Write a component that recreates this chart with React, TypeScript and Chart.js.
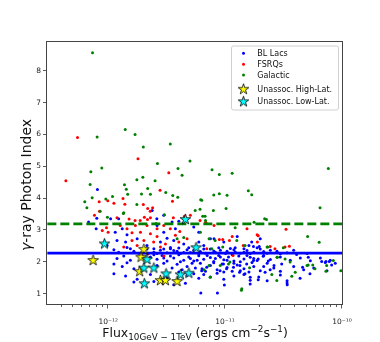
import React, { useEffect, useRef } from "react";
import { Chart, registerables } from "chart.js";

Chart.register(...registerables);

const FONT = "'DejaVu Sans', sans-serif";
const FLUX_UNIT = 1e-12; // fluxes below are in units of 1e-12 ergs cm^-2 s^-1

// axis ranges and ticks
const xLimits = [3.02e-13, 1e-10];
const yLimits = [0.64, 8.94];
const yTickValues = [1, 2, 3, 4, 5, 6, 7, 8];
const xMajorTickValues = [1e-12, 1e-11, 1e-10];
const xMajorTickLabels = ["10\u207B\u00B9\u00B2", "10\u207B\u00B9\u00B9", "10\u207B\u00B9\u2070"];

// reference lines (photon index)
const blLacLineIndex = 2.27;
const galacticLineIndex = 3.19;

const seriesLabels = ["BL Lacs", "FSRQs", "Galactic", "Unassoc. High-Lat.", "Unassoc. Low-Lat."];
const seriesColors = ["#0000ff", "#ff0000", "#008000", "#ffff00", "#00ffff"];

// [flux (1e-12), photon index]
const blLacs: number[][] = [
  [0.81, 4.27], [0.68, 3.25], [0.79, 3.04], [0.8, 3.37], [1.05, 3.35], [1.23, 3.35], [1.32, 3.04], [2.38, 3.61],
  [2.61, 3.35], [2.99, 3.46], [3.52, 3.25], [3.76, 3.04], [4.02, 3.27], [5.4, 3.09], [5.96, 2.93], [2.62, 3.14],
  [1.15, 2.93], [1.45, 2.85], [1.77, 2.72], [1.19, 2.67], [1.41, 2.62], [2.15, 2.51], [2.99, 2.93], [3.19, 2.74],
  [3.64, 2.67], [4.43, 2.56], [2.8, 2.62], [7.49, 2.72], [9.75, 2.62], [12.7, 2.79], [16.0, 2.51], [20.0, 2.72],
  [5.96, 2.62], [0.98, 2.51], [1.55, 2.41], [2.46, 2.41], [3.41, 2.41], [4.02, 2.43], [6.57, 2.51], [14.5, 2.41],
  [8.05, 2.72], [12.2, 2.44], [16.9, 2.62], [17.5, 2.48], [19.6, 2.48],
  [40.9, 2.23], [51.5, 2.14], [67.0, 2.01], [72.9, 2.01], [77.8, 2.01], [81.5, 1.9], [46.0, 1.83], [53.2, 1.62],
  [34.0, 1.28], [43.8, 1.48], [30.5, 1.93], [26.2, 1.88], [23.4, 2.02], [21.2, 2.17], [19.2, 2.09], [17.5, 2.04],
  [15.3, 1.93], [13.4, 1.88], [11.8, 1.83], [10.3, 1.78], [9.06, 1.72], [9.68, 1.93], [13.3, 1.67], [14.8, 1.62],
  [16.4, 1.51], [19.2, 1.43], [22.0, 1.67], [24.3, 1.75], [9.86, 1.27], [8.6, 1.02], [6.2, 1.02], [6.31, 1.72],
  [6.97, 1.83],
  [1.12, 2.38], [1.23, 2.3], [1.45, 2.45], [1.66, 2.33], [1.83, 2.27], [2.15, 2.4], [2.46, 2.3], [2.8, 2.36],
  [3.19, 2.28], [3.41, 2.45], [3.89, 2.33], [4.15, 2.26], [4.73, 2.38], [5.05, 2.29], [5.57, 2.45], [6.15, 2.32],
  [6.79, 2.27], [7.49, 2.4], [8.26, 2.3], [9.12, 2.36], [10.1, 2.26], [11.1, 2.42], [12.2, 2.31], [13.5, 2.27],
  [15.4, 2.35], [17.6, 2.3], [20.0, 2.4], [22.9, 2.27], [27.8, 2.33], [33.9, 2.28], [38.6, 2.36], [50.2, 2.26],
  [2.62, 2.26], [2.99, 2.4], [3.64, 2.35], [4.43, 2.29], [4.89, 2.44], [5.4, 2.36], [5.96, 2.25], [6.57, 2.4],
  [8.0, 2.34], [8.83, 2.44], [10.4, 2.33], [11.9, 2.38], [14.5, 2.3], [16.4, 2.26], [18.8, 2.44], [21.4, 2.32],
  [24.4, 2.36], [29.7, 2.25],
  [1.19, 2.1], [1.36, 2.18], [1.55, 2.05], [2.3, 2.15], [2.62, 2.08], [2.89, 2.2], [3.19, 2.02], [3.64, 2.12],
  [4.02, 2.22], [4.43, 2.05], [4.89, 2.15], [5.4, 2.02], [5.96, 2.19], [6.57, 2.08], [7.49, 2.13], [8.0, 2.01],
  [8.83, 2.2], [9.75, 2.06], [10.7, 2.15], [11.9, 2.02], [13.1, 2.18], [14.5, 2.09], [16.4, 2.14], [18.8, 2.04],
  [21.4, 2.2], [24.4, 2.07], [29.7, 2.15], [36.1, 2.05], [44.0, 2.12], [53.6, 2.03], [65.3, 2.12], [72.0, 1.98],
  [79.4, 2.05], [87.6, 1.95],
  [2.46, 2.22], [2.99, 2.12], [3.41, 2.18], [4.15, 2.0], [5.05, 2.1], [5.77, 2.05], [7.03, 2.2], [8.26, 2.1],
  [9.12, 2.15], [10.4, 2.05], [11.5, 2.22], [13.5, 2.0], [15.4, 2.2], [17.6, 2.1],
  [1.12, 1.93], [1.32, 1.85], [1.45, 1.97], [1.66, 1.78], [2.62, 1.88], [2.99, 1.95], [3.52, 1.8], [3.89, 1.92],
  [4.29, 1.75], [4.73, 1.85], [5.57, 1.8], [6.15, 1.95], [6.79, 1.7], [7.49, 1.88], [8.55, 1.75], [9.42, 1.93],
  [10.4, 1.82], [11.5, 1.7], [12.7, 1.9], [14.5, 1.78], [16.0, 1.68], [17.6, 1.85], [20.0, 1.72], [22.9, 1.95],
  [26.1, 1.8], [29.7, 1.7], [38.6, 1.85], [47.0, 1.75], [57.3, 1.8], [74.4, 1.72],
  [4.02, 1.68], [5.22, 1.95], [6.35, 1.78], [8.0, 1.97], [9.75, 1.68], [11.9, 1.95], [13.5, 1.72], [17.0, 1.98],
  [21.4, 1.85],
  [1.12, 1.62], [1.41, 1.55], [1.77, 1.45], [2.3, 1.6], [3.19, 1.5], [4.73, 1.57], [5.4, 1.62], [5.96, 1.48],
  [6.57, 1.6], [7.49, 1.52], [8.55, 1.64], [9.75, 1.45], [11.9, 1.55], [14.5, 1.6], [16.4, 1.42], [19.4, 1.52],
  [22.9, 1.4], [29.7, 1.58], [33.9, 1.4],
  [1.66, 1.36], [2.46, 1.38], [3.64, 1.28], [4.58, 1.32], [16.4, 1.3], [33.9, 1.33],
];

const fsrqs: number[][] = [
  [0.547, 5.91], [0.435, 4.55], [1.8, 5.24], [3.3, 4.8], [2.78, 4.25], [1.34, 3.99],
  [0.838, 3.89], [0.993, 3.92], [1.12, 3.84], [0.764, 3.46], [1.19, 3.38], [1.51, 3.34], [1.7, 3.3], [1.88, 3.3],
  [2.04, 3.4], [2.18, 3.67], [2.29, 3.59], [2.17, 3.33], [3.55, 3.9], [1.39, 3.81], [3.61, 3.38], [4.49, 3.43],
  [6.11, 3.3], [6.84, 3.24], [0.843, 3.59], [2.3, 3.38],
  [0.968, 3.07], [0.891, 2.98], [1.0, 2.93], [1.27, 3.14], [1.45, 3.04], [1.6, 2.91], [1.71, 3.14], [1.89, 2.93],
  [2.15, 3.14], [2.3, 2.88], [2.62, 3.04], [2.99, 3.14], [3.4, 3.04], [3.76, 2.83], [4.1, 2.95], [2.62, 2.79],
  [1.6, 2.67], [2.02, 2.67], [2.45, 2.62], [3.09, 2.56], [1.36, 2.46], [1.77, 2.51], [2.8, 2.46], [4.02, 2.62],
  [4.73, 2.72], [5.05, 3.46],
  [8.05, 3.14], [33.2, 3.02], [11.5, 2.79], [19.2, 2.82], [8.93, 2.7], [9.55, 2.7], [10.9, 2.67], [18.9, 2.62],
  [6.97, 2.41], [24.3, 2.48], [26.7, 2.41], [32.6, 2.46], [35.5, 2.49], [11.7, 2.2], [14.3, 2.51], [15.4, 3.04],
  [18.8, 2.85], [2.0, 3.8], [2.4, 3.7], [2.2, 2.25], [1.95, 2.2], [3.0, 2.18],
];

const galactic: number[][] = [
  [0.735, 8.57], [1.4, 6.16], [0.805, 5.92], [1.7, 6.0], [2.0, 5.61], [3.4, 5.7], [2.64, 5.09], [0.711, 4.83],
  [0.883, 4.95], [3.96, 4.93], [4.29, 4.72], [5.01, 5.17], [7.74, 4.89], [8.93, 4.74], [11.5, 4.78], [76.4, 4.93],
  [0.701, 4.43], [1.38, 4.42], [1.43, 4.28], [1.47, 4.12], [1.76, 4.58], [1.98, 4.66], [2.18, 4.3], [2.52, 4.55],
  [1.93, 4.13], [2.3, 4.12], [3.11, 4.18], [3.57, 4.08], [3.94, 4.03], [8.0, 4.1], [8.93, 4.14], [10.4, 4.09],
  [15.8, 4.23], [16.9, 4.11], [0.73, 4.01], [0.955, 3.97], [1.09, 4.05], [6.19, 3.95],
  [0.631, 3.89], [0.658, 3.7], [0.855, 3.59], [1.35, 3.52], [1.76, 3.8], [3.03, 3.48], [5.55, 3.61], [6.11, 3.65],
  [6.31, 3.93], [0.986, 3.4],
  [7.94, 3.61], [10.2, 3.67], [6.44, 3.43], [6.75, 3.43], [22.6, 3.33], [17.7, 3.24], [12.2, 3.07], [64.9, 3.7],
  [50.8, 2.79], [63.8, 2.61], [14.8, 2.51], [12.6, 2.67], [23.1, 2.46], [31.5, 2.44], [28.0, 2.14], [8.22, 2.67],
  [9.55, 2.46], [32.6, 2.09], [36.0, 1.99], [39.8, 1.67], [27.7, 1.41], [13.9, 1.15], [25.1, 1.6], [37.2, 1.54],
  [51.4, 1.9], [56.2, 1.9], [73.9, 1.88], [84.3, 2.04], [97.7, 1.72], [72.9, 1.7], [58.7, 1.78], [16.2, 1.81],
  [11.0, 1.99], [7.45, 1.51], [6.61, 1.75],
  [1.36, 3.54], [2.57, 3.2], [3.89, 2.72], [4.43, 2.76], [6.15, 2.93], [7.3, 2.72], [7.7, 2.41], [7.3, 1.88],
  [9.1, 1.88], [10.7, 1.93], [13.8, 1.1], [21.8, 3.35], [22.9, 2.46], [27.8, 2.14], [50.2, 1.88], [6.8, 3.3],
];

const unassocHighLat: number[][] = [
  [0.744, 2.04], [2.02, 2.39], [1.91, 2.14], [1.86, 1.69], [2.8, 1.41], [3.09, 1.41], [3.89, 1.38],
];

const unassocLowLat: number[][] = [
  [4.58, 3.33], [0.93, 2.56], [5.65, 2.44], [2.15, 2.07], [2.02, 1.8], [2.46, 1.8], [3.13, 1.62], [4.15, 1.59],
  [4.9, 1.64], [2.04, 1.31],
];

function toPoints(list: number[][]) {
  return list.map(([f, g]) => ({ x: f * FLUX_UNIT, y: g }));
}

function makeStar(fill: string, R: number) {
  const size = Math.ceil(R * 2 + 3);
  const c = document.createElement("canvas");
  c.width = size;
  c.height = size;
  const g = c.getContext("2d")!;
  const cx = size / 2;
  const cy = size / 2;
  const r = R * 0.381966;
  g.beginPath();
  for (let i = 0; i < 10; i++) {
    const ang = -Math.PI / 2 + (i * Math.PI) / 5;
    const rad = i % 2 === 0 ? R : r;
    const px = cx + rad * Math.cos(ang);
    const py = cy + rad * Math.sin(ang);
    if (i === 0) g.moveTo(px, py);
    else g.lineTo(px, py);
  }
  g.closePath();
  g.fillStyle = fill;
  g.fill();
  g.lineWidth = 0.8;
  g.strokeStyle = "#000";
  g.stroke();
  return c;
}

function minorTicks(): number[] {
  const out: number[] = [];
  for (let e = -13; e <= -11; e++) {
    for (let m = 2; m <= 9; m++) {
      const v = m * Math.pow(10, e);
      if (v >= xLimits[0] && v <= xLimits[1]) out.push(v);
    }
  }
  return out;
}

export default function App() {
  const ref = useRef<HTMLCanvasElement>(null);

  useEffect(() => {
    const canvas = ref.current!;
    const starHigh = makeStar(seriesColors[3], 5.6);
    const starLow = makeStar(seriesColors[4], 5.6);

    const decor = {
      id: "decor",
      afterDatasetsDraw(chart: any) {
        const { ctx, chartArea: a, scales } = chart;
        const xs = scales.x;
        ctx.save();
        // x tick marks (major + minor)
        ctx.strokeStyle = "#333";
        ctx.lineWidth = 0.8;
        for (const t of xs.ticks) {
          const px = Math.round(xs.getPixelForValue(t.value)) - 0.5;
          const major = xMajorTickValues.some((v) => Math.abs(v - t.value) < v * 1e-6);
          const len = major ? 3.5 : 2;
          ctx.beginPath();
          ctx.moveTo(px, a.bottom);
          ctx.lineTo(px, a.bottom + len);
          ctx.stroke();
        }
        // frame
        ctx.strokeStyle = "#444";
        ctx.lineWidth = 1;
        ctx.strokeRect(a.left - 0.5, a.top + 0.5, a.right - a.left + 1, a.bottom - a.top - 1);

        // legend
        const lx = 231.5, ly = 46, lw = 107, lh = 64;
        ctx.globalAlpha = 0.85;
        ctx.fillStyle = "#fff";
        ctx.beginPath();
        (ctx as any).roundRect(lx, ly, lw, lh, 2);
        ctx.fill();
        ctx.globalAlpha = 1;
        ctx.strokeStyle = "#d0d0d0";
        ctx.lineWidth = 1;
        ctx.stroke();
        const rows = [53.3, 64.3, 75, 89.3, 101.7];
        ctx.font = `8px ${FONT}`;
        ctx.textBaseline = "middle";
        ctx.textAlign = "left";
        seriesLabels.forEach((lab, i) => {
          const y = rows[i];
          const mx = 243.5;
          if (i < 3) {
            ctx.fillStyle = seriesColors[i];
            ctx.beginPath();
            ctx.arc(mx, y, 1.5, 0, Math.PI * 2);
            ctx.fill();
          } else {
            const img = i === 3 ? starHigh : starLow;
            ctx.drawImage(img, mx - img.width / 2, y - img.height / 2);
          }
          ctx.fillStyle = "#111";
          ctx.fillText(lab, 257.3, y + 0.5);
        });
        ctx.restore();
      },
      afterDraw(chart: any) {
        const { ctx } = chart;
        ctx.save();
        ctx.fillStyle = "#111";
        ctx.textBaseline = "alphabetic";
        ctx.textAlign = "left";
        // x-axis title with sub/superscripts
        const big = 12.5, small = 8.8;
        const parts = [
          { t: "Flux", s: 0 },
          { t: "10GeV \u2212 1TeV", s: 1 },
          { t: " (ergs cm", s: 0 },
          { t: "\u22122", s: -1 },
          { t: "s", s: 0 },
          { t: "\u22121", s: -1 },
          { t: ")", s: 0 },
        ];
        const fontFor = (s: number) => `${s === 0 ? big : small}px ${FONT}`;
        let total = 0;
        for (const p of parts) {
          ctx.font = fontFor(p.s);
          total += ctx.measureText(p.t).width;
        }
        let x = 195 - total / 2;
        const base = 336.5;
        for (const p of parts) {
          ctx.font = fontFor(p.s);
          const dy = p.s === 1 ? 3 : p.s === -1 ? -5 : 0;
          ctx.fillText(p.t, x, base + dy);
          x += ctx.measureText(p.t).width;
        }
        // y-axis title, rotated
        ctx.translate(31, 185);
        ctx.rotate(-Math.PI / 2);
        const yParts = [
          { t: "\u03B3", f: `italic 14px ${FONT}` },
          { t: "-ray Photon Index", f: `14px ${FONT}` },
        ];
        let ytot = 0;
        for (const p of yParts) {
          ctx.font = p.f;
          ytot += ctx.measureText(p.t).width;
        }
        let yx = -ytot / 2;
        for (const p of yParts) {
          ctx.font = p.f;
          ctx.fillText(p.t, yx, 0);
          yx += ctx.measureText(p.t).width;
        }
        ctx.restore();
      },
    };

    const dot = (i: number, data: number[][], order: number) => ({
      label: seriesLabels[i],
      data: toPoints(data),
      backgroundColor: seriesColors[i],
      borderWidth: 0,
      pointRadius: 1.5,
      pointStyle: "circle",
      order,
    });

    const chart = new Chart(canvas, {
      type: "scatter",
      data: {
        datasets: [
          dot(0, blLacs, 10),
          dot(1, fsrqs, 9),
          dot(2, galactic, 8),
          {
            label: "",
            data: [
              { x: xLimits[0], y: blLacLineIndex },
              { x: xLimits[1], y: blLacLineIndex },
            ],
            showLine: true,
            borderColor: "#0000ff",
            borderWidth: 2.6,
            pointRadius: 0,
            order: 7,
          },
          {
            label: "",
            data: [
              { x: xLimits[0], y: galacticLineIndex },
              { x: xLimits[1], y: galacticLineIndex },
            ],
            showLine: true,
            borderColor: "#008000",
            borderWidth: 2.6,
            borderDash: [9, 4],
            pointRadius: 0,
            order: 6,
          },
          {
            label: seriesLabels[3],
            data: toPoints(unassocHighLat),
            pointStyle: starHigh,
            pointRadius: 6,
            order: 2,
          },
          {
            label: seriesLabels[4],
            data: toPoints(unassocLowLat),
            pointStyle: starLow,
            pointRadius: 6,
            order: 1,
          },
        ] as any,
      },
      options: {
        responsive: false,
        animation: false,
        devicePixelRatio: 1,
        layout: { padding: { top: 41, right: 38, left: 0, bottom: 0 } },
        plugins: { legend: { display: false }, tooltip: { enabled: false } },
        scales: {
          x: {
            type: "logarithmic",
            min: xLimits[0],
            max: xLimits[1],
            afterBuildTicks: (s: any) => {
              const vals = [...xMajorTickValues, ...minorTicks()].sort((p, q) => p - q);
              s.ticks = vals.map((v) => ({ value: v, major: xMajorTickValues.includes(v) }));
            },
            afterFit: (s: any) => {
              s.height = 37;
            },
            grid: { display: false },
            border: { display: false },
            ticks: {
              autoSkip: false,
              maxRotation: 0,
              minRotation: 0,
              padding: 5,
              color: "#222",
              font: { family: FONT, size: 7.5 },
              callback: (v: any) => {
                const i = xMajorTickValues.findIndex((m) => Math.abs(m - v) < m * 1e-6);
                return i >= 0 ? xMajorTickLabels[i] : "";
              },
            },
          },
          y: {
            type: "linear",
            min: yLimits[0],
            max: yLimits[1],
            afterBuildTicks: (s: any) => {
              s.ticks = yTickValues.map((v) => ({ value: v }));
            },
            afterFit: (s: any) => {
              s.width = 47;
            },
            grid: {
              display: true,
              drawOnChartArea: false,
              drawTicks: true,
              tickLength: 4,
              tickColor: "#333",
              tickWidth: 0.8,
            },
            border: { display: false },
            ticks: {
              padding: 2,
              color: "#222",
              font: { family: FONT, size: 7.5 },
              callback: (v: any) => String(v),
            },
          },
        },
      } as any,
      plugins: [decor],
    });

    return () => chart.destroy();
  }, []);

  return (
    <div style={{ position: "fixed", left: 0, top: 0, width: 380, height: 342, background: "#fff" }}>
      <canvas ref={ref} width={380} height={342} style={{ display: "block" }} />
    </div>
  );
}
